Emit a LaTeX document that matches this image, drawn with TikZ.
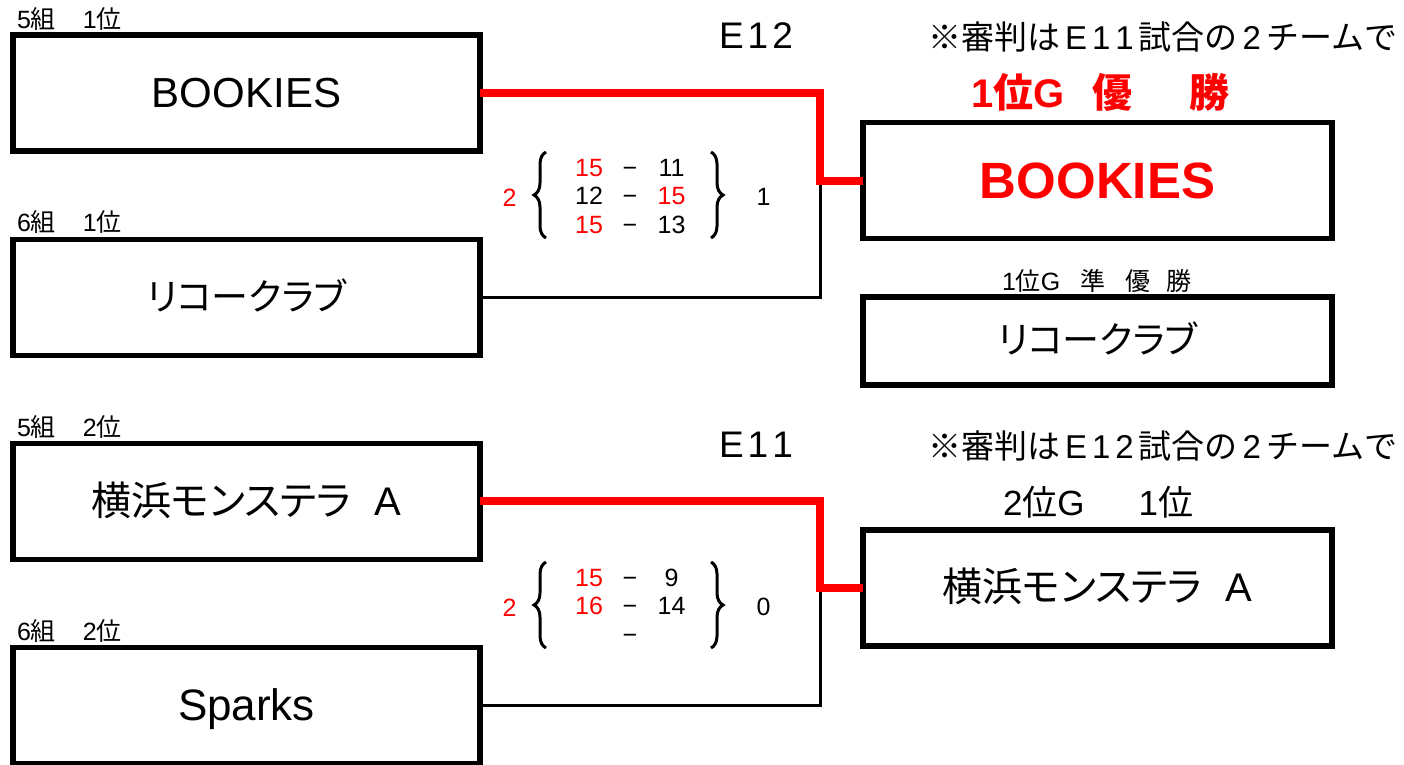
\documentclass[tikz,border=0pt]{standalone}
\usepackage{fontspec}
\setmainfont{Liberation Sans}
\newfontfamily\jpfont[RawFeature=+palt]{Noto Sans CJK JP}
\newfontfamily\jpfull{Noto Sans CJK JP}
\usetikzlibrary{decorations.pathreplacing}
\newcommand{\jtxt}[1]{{\jpfont #1}}
\newcommand{\jfw}[1]{{\jpfull #1}}
\newcommand{\capc}[1]{\vphantom{H}\smash{#1}}
\newcommand{\fsz}[1]{\fontsize{#1}{#1}\selectfont}
\newcommand{\gp}{\hspace{5pt}}
\begin{document}
\begin{tikzpicture}[x=1pt,y=-1pt,
  box/.style={draw, line width=5.5pt, rectangle, inner sep=0pt, outer sep=0pt, minimum width=467pt, minimum height=116pt},
  rbox/.style={box, minimum width=469pt},
  txt/.style={inner sep=0pt, outer sep=0pt, anchor=base west},
  sc/.style={inner sep=0pt, outer sep=0pt, anchor=center, font=\fsz{25}},
  win/.style={draw=red, line width=8pt},
  lose/.style={draw=black, line width=3pt},
  brc/.style={decorate, decoration={brace, amplitude=12pt}, line width=3pt}
]
\useasboundingbox (0,0) rectangle (1404,764);

% left boxes
\node[box] (L1) at (246.5,92.75) {\fsz{42}\capc{BOOKIES}};
\node[box] (L2) at (246.5,297.5) {\fsz{37}\capc{\jtxt{リコークラブ}}};
\node[box] (L3) at (246.5,501.25) {\fsz{40}\capc{\jtxt{横浜モンステラ}\hspace{24pt}A}};
\node[box] (L4) at (246.5,705.25) {\fsz{44}\capc{Sparks}};

% right boxes
\node[rbox, text=red] (R1) at (1097.5,180.5) {\fsz{51}\bfseries\capc{BOOKIES}};
\node[rbox, minimum height=88pt] (R2) at (1097.5,341) {\fsz{37}\capc{\jtxt{リコークラブ}}};
\node[rbox] (R3) at (1097.5,588.2) {\fsz{40}\capc{\jtxt{横浜モンステラ}\hspace{24pt}A}};

% group labels
\node[txt] (g1) at (17,28) {\fsz{25}5\jfw{組}\hspace{27pt}1\jfw{位}};
\node[txt] (g2) at (17,231) {\fsz{25}6\jfw{組}\hspace{27pt}1\jfw{位}};
\node[txt] (g3) at (17,436) {\fsz{25}5\jfw{組}\hspace{27pt}2\jfw{位}};
\node[txt] (g4) at (17,640) {\fsz{25}6\jfw{組}\hspace{27pt}2\jfw{位}};

% match titles and notes
\node[txt] (m12) at (719,48) {\fsz{37}E\hspace{4pt}1\hspace{4pt}2};
\node[txt] (n12) at (928,49) {\fsz{33}\jfw{※審判は}\gp E\gp 1\gp 1\gp\jfw{試合の}\gp 2\gp\jfw{チームで}};
\node[txt] (m11) at (719,457) {\fsz{37}E\hspace{4pt}1\hspace{4pt}1};
\node[txt] (n11) at (928,458) {\fsz{33}\jfw{※審判は}\gp E\gp 1\gp 2\gp\jfw{試合の}\gp 2\gp\jfw{チームで}};

% placing labels
\node[txt, text=red, font=\bfseries] (w1) at (971,107) {\fsz{40}1\jtxt{位}G\hspace{28pt}\jtxt{優}\hspace{57pt}\jtxt{勝}};
\node[txt] (w2) at (1002,290) {\fsz{25}1\jtxt{位}G\hspace{20pt}\jtxt{準}\hspace{20pt}\jtxt{優}\hspace{16pt}\jtxt{勝}};
\node[txt] (w3) at (1003,515) {\fsz{35}2\jfw{位}G\hspace{54pt}1\jfw{位}};

% connectors
\coordinate (j1) at (820.3,180.5);
\coordinate (j2) at (820.3,588.2);
\draw[lose] (L2.east) -| (j1);
\draw[win] (L1.east) -| (j1) -- (R1.west);
\draw[lose] (L4.east) -| (j2);
\draw[win] (L3.east) -| (j2) -- (R3.west);

% score block E12
\node[sc, text=red] (u0) at (509.5,197.5) {\capc{2}};
\coordinate (ub1) at (546,238); \coordinate (ub2) at (546,152);
\draw[brc] (ub1) -- (ub2);
\node[sc, text=red] (u11) at (589,167.5) {\capc{15}};
\node[sc] (u12) at (630,167.5) {\capc{−}};
\node[sc] (u13) at (671.5,167.5) {\capc{11}};
\node[sc] (u21) at (589,196) {\capc{12}};
\node[sc] (u22) at (630,196) {\capc{−}};
\node[sc, text=red] (u23) at (671.5,196) {\capc{15}};
\node[sc, text=red] (u31) at (589,224.5) {\capc{15}};
\node[sc] (u32) at (630,224.5) {\capc{−}};
\node[sc] (u33) at (671.5,224.5) {\capc{13}};
\coordinate (ub3) at (711,152); \coordinate (ub4) at (711,238);
\draw[brc] (ub3) -- (ub4);
\node[sc] (u4) at (763.5,197) {\capc{1}};

% score block E11
\node[sc, text=red] (v0) at (509.5,607.5) {\capc{2}};
\coordinate (vb1) at (546,648); \coordinate (vb2) at (546,562);
\draw[brc] (vb1) -- (vb2);
\node[sc, text=red] (v11) at (589,577.5) {\capc{15}};
\node[sc] (v12) at (630,577.5) {\capc{−}};
\node[sc] (v13) at (671.5,577.5) {\capc{9}};
\node[sc, text=red] (v21) at (589,606) {\capc{16}};
\node[sc] (v22) at (630,606) {\capc{−}};
\node[sc] (v23) at (671.5,606) {\capc{14}};
\node[sc] (v32) at (630,634.5) {\capc{−}};
\coordinate (vb3) at (711,562); \coordinate (vb4) at (711,648);
\draw[brc] (vb3) -- (vb4);
\node[sc] (v4) at (763.5,607) {\capc{0}};
\end{tikzpicture}
\end{document}
